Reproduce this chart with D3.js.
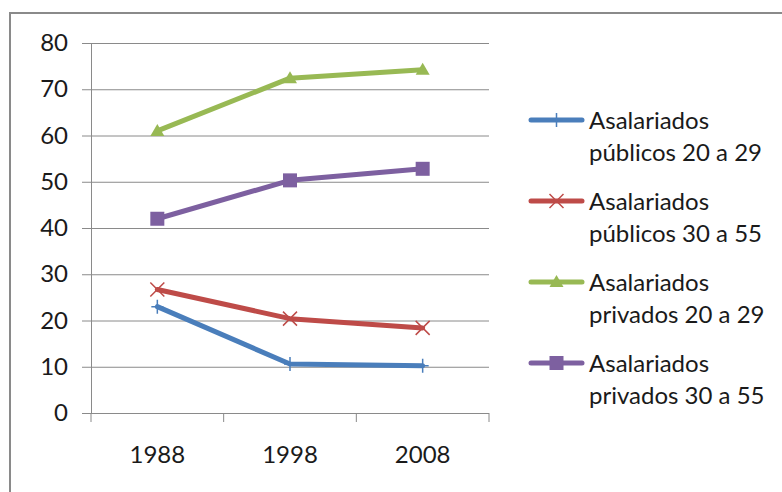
<!DOCTYPE html>
<html>
<head>
<meta charset="utf-8">
<script src="https://cdn.jsdelivr.net/npm/d3@7"></script>
<style>
  html, body { margin: 0; padding: 0; background: #fff; }
  svg text { font-family: Lato, "Open Sans", sans-serif; fill: #1a1a1a; }
</style>
</head>
<body>
<svg id="chart" width="782" height="492"></svg>
<script>
// Share of salaried workers by sector and age group
const years = ["1988", "1998", "2008"];
const yTicks = [0, 10, 20, 30, 40, 50, 60, 70, 80];
const seriesNames = [
  ["Asalariados", "públicos 20 a 29"],
  ["Asalariados", "públicos 30 a 55"],
  ["Asalariados", "privados 20 a 29"],
  ["Asalariados", "privados 30 a 55"]
];
const publicos20 = [23.0, 10.6, 10.2];
const publicos30 = [26.7, 20.4, 18.4];
const privados20 = [61.0, 72.4, 74.2];
const privados30 = [42.0, 50.3, 52.8];

const colors = ["#4A7EBB", "#BE4B48", "#98B954", "#7D60A0"];
const markers = ["plus", "cross", "triangle", "square"];
const series = [publicos20, publicos30, privados20, privados30].map((values, i) => ({
  name: seriesNames[i], values, color: colors[i], marker: markers[i]
}));

const FONT = 24;
const svg = d3.select("#chart");

// outer chart frame (runs off the right and bottom edges)
svg.append("path")
  .attr("d", "M10,494 V13 H784")
  .attr("fill", "none")
  .attr("stroke", "#8a8a8a")
  .attr("stroke-width", 2);

const plot = { left: 91, right: 489, top: 43, bottom: 413 };

const x = d3.scaleBand().domain(years).range([plot.left, plot.right]);
const y = d3.scaleLinear().domain([0, 80]).range([plot.bottom, plot.top]);

// y axis
const yAxis = d3.axisLeft(y).tickValues(yTicks).tickSize(9).tickPadding(14);
const gy = svg.append("g").attr("transform", `translate(${plot.left},0)`).call(yAxis);
gy.select(".domain").attr("stroke", "#8a8a8a");
gy.selectAll(".tick line").attr("stroke", "#8a8a8a");
gy.selectAll(".tick text").attr("font-size", FONT).attr("fill", "#1a1a1a")
  .style("font-family", "Lato, 'Open Sans', sans-serif");

// horizontal gridlines
svg.append("g").selectAll("line").data(yTicks.filter(d => d > 0)).join("line")
  .attr("x1", plot.left).attr("x2", plot.right)
  .attr("y1", d => y(d) + 0.5).attr("y2", d => y(d) + 0.5)
  .attr("stroke", "#8a8a8a").attr("stroke-width", 1);

// x axis with ticks at category boundaries
const gx = svg.append("g").attr("transform", `translate(0,${plot.bottom})`);
gx.append("line").attr("x1", plot.left).attr("x2", plot.right)
  .attr("y1", 0.5).attr("y2", 0.5).attr("stroke", "#8a8a8a");
const bounds = years.map(d => x(d)).concat([x(years[years.length - 1]) + x.bandwidth()]);
gx.selectAll("line.tk").data(bounds).join("line").attr("class", "tk")
  .attr("x1", d => d).attr("x2", d => d).attr("y1", 0).attr("y2", 9)
  .attr("stroke", "#8a8a8a");
gx.selectAll("text").data(years).join("text")
  .attr("x", d => x(d) + x.bandwidth() / 2)
  .attr("y", 50)
  .attr("text-anchor", "middle")
  .attr("font-size", FONT)
  .text(d => d);

const cx = d => x(d) + x.bandwidth() / 2;
const line = d3.line().x((v, i) => cx(years[i])).y(v => y(v));

function drawMarker(g, type, px, py, color) {
  if (type === "plus") {
    g.append("path").attr("d", `M${px - 6},${py}H${px + 6}M${px},${py - 7}V${py + 7}`)
      .attr("stroke", color).attr("stroke-width", 1.5).attr("fill", "none");
  } else if (type === "cross") {
    g.append("path").attr("d", `M${px - 7},${py - 7}L${px + 7},${py + 7}M${px + 7},${py - 7}L${px - 7},${py + 7}`)
      .attr("stroke", color).attr("stroke-width", 1.5).attr("fill", "none");
  } else if (type === "triangle") {
    g.append("path").attr("d", `M${px},${py - 7}L${px + 7},${py + 5}L${px - 7},${py + 5}Z`)
      .attr("fill", color);
  } else if (type === "square") {
    g.append("rect").attr("x", px - 7).attr("y", py - 7).attr("width", 14).attr("height", 14)
      .attr("fill", color);
  }
}

const lines = svg.append("g");
series.forEach(s => {
  const g = lines.append("g");
  g.append("path").datum(s.values).attr("d", line)
    .attr("fill", "none").attr("stroke", s.color).attr("stroke-width", 5)
    .attr("stroke-linejoin", "round").attr("stroke-linecap", "round");
  s.values.forEach((v, i) => drawMarker(g, s.marker, cx(years[i]), y(v), s.color));
});

// legend
const legend = svg.append("g");
series.forEach((s, i) => {
  const top = 120 + i * 81;
  const g = legend.append("g");
  g.append("line").attr("x1", 531).attr("x2", 582).attr("y1", top).attr("y2", top)
    .attr("stroke", s.color).attr("stroke-width", 5).attr("stroke-linecap", "round");
  drawMarker(g, s.marker, 556.5, top, s.color);
  g.append("text").attr("x", 589).attr("y", top + 9).attr("font-size", FONT).text(s.name[0]);
  g.append("text").attr("x", 589).attr("y", top + 41).attr("font-size", FONT).text(s.name[1]);
});
</script>
</body>
</html>
